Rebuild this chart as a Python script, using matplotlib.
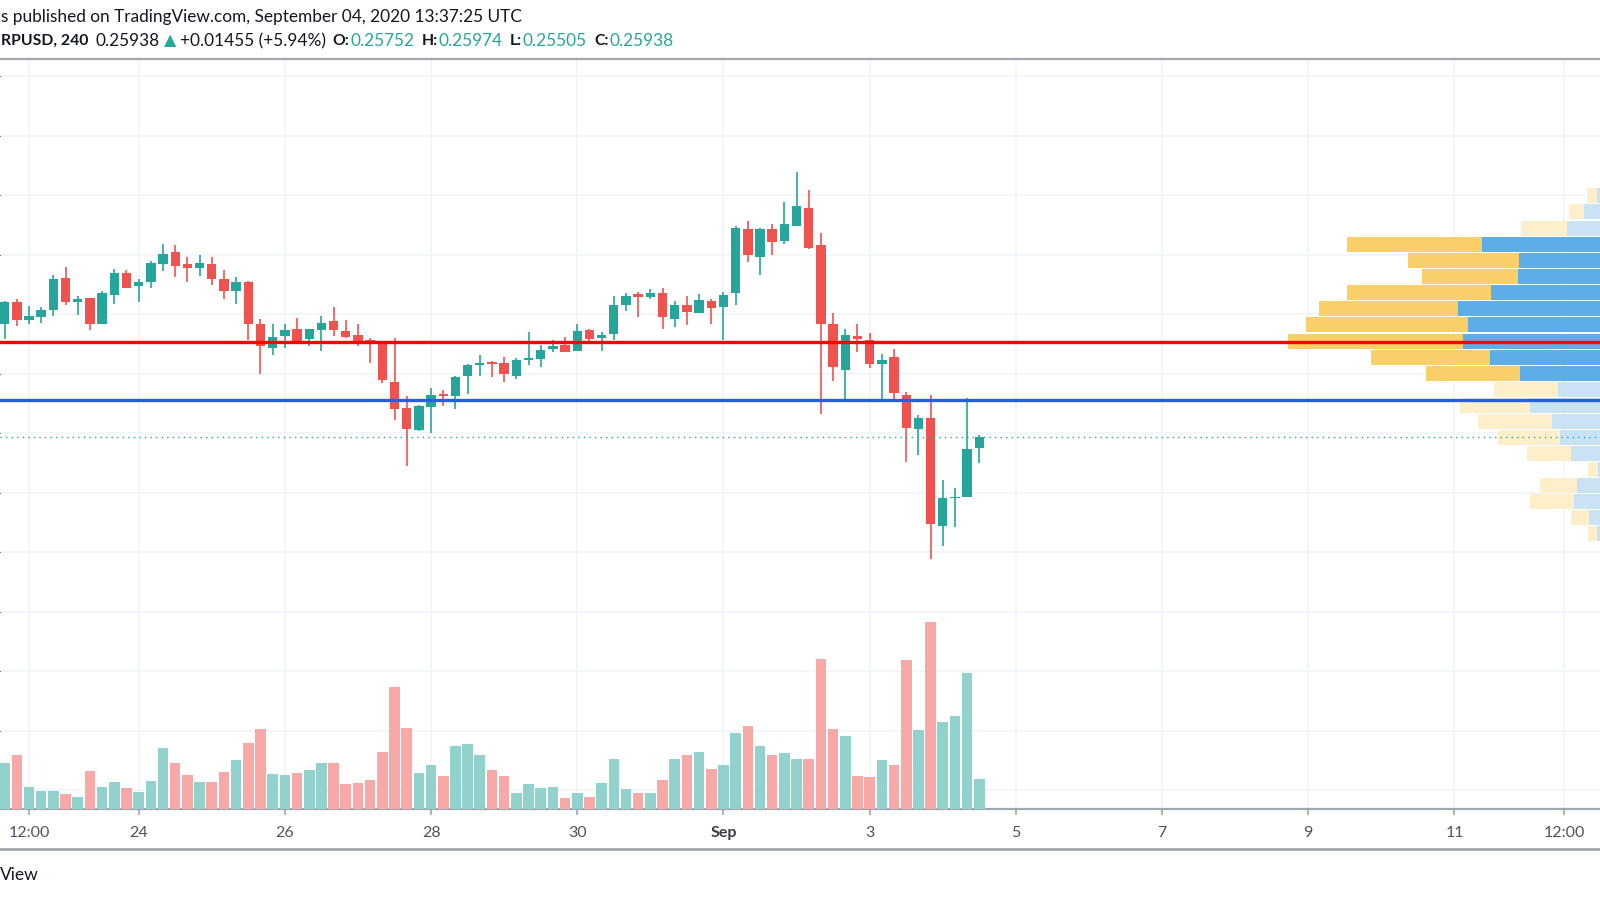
import numpy as np
import pandas as pd
import matplotlib
matplotlib.use("Agg")
import matplotlib.pyplot as plt
import matplotlib.dates as mdates
from matplotlib.lines import Line2D

# ---------------- data ----------------
first_candle = "2020-08-22 04:00"   # 4h candles, XRPUSD
opens = [0.2784, 0.2821, 0.2790, 0.2795, 0.2807, 0.2861, 0.2820, 0.2827, 0.2783, 0.2833,
         0.2870, 0.2847, 0.2854, 0.2885, 0.2905, 0.2884, 0.2878, 0.2884, 0.2859, 0.2839,
         0.2855, 0.2783, 0.2744, 0.2764, 0.2775, 0.2758, 0.2774, 0.2788, 0.2772, 0.2766,
         0.2756, 0.2753, 0.2686, 0.2643, 0.2605, 0.2645, 0.2666, 0.2662, 0.2696, 0.2715,
         0.2720, 0.2718, 0.2697, 0.2724, 0.2725, 0.2741, 0.2749, 0.2738, 0.2774, 0.2761,
         0.2767, 0.2815, 0.2834, 0.2829, 0.2836, 0.2792, 0.2815, 0.2803, 0.2823, 0.2812,
         0.2835, 0.2944, 0.2896, 0.2943, 0.2924, 0.2949, 0.2979, 0.2916, 0.2783, 0.2706,
         0.2764, 0.2756, 0.2716, 0.2728, 0.2664, 0.2608, 0.2626, 0.2445, 0.2491, 0.2493,
         0.25752]
highs = [0.2823, 0.2826, 0.2814, 0.2813, 0.2866, 0.2880, 0.2830, 0.2827, 0.2839, 0.2876,
         0.2875, 0.2859, 0.2889, 0.2919, 0.2917, 0.2896, 0.2899, 0.2897, 0.2875, 0.2862,
         0.2856, 0.2792, 0.2784, 0.2784, 0.2794, 0.2776, 0.2797, 0.2812, 0.2790, 0.2784,
         0.2760, 0.2754, 0.2761, 0.2662, 0.2647, 0.2677, 0.2673, 0.2696, 0.2716, 0.2732,
         0.2722, 0.2729, 0.2727, 0.2770, 0.2748, 0.2757, 0.2762, 0.2784, 0.2775, 0.2770,
         0.2831, 0.2835, 0.2837, 0.2843, 0.2844, 0.2822, 0.2830, 0.2834, 0.2825, 0.2837,
         0.2948, 0.2956, 0.2945, 0.2951, 0.2989, 0.3040, 0.3009, 0.2936, 0.2802, 0.2775,
         0.2784, 0.2768, 0.2734, 0.2742, 0.2670, 0.2631, 0.2664, 0.2522, 0.2508, 0.2659,
         0.25974]
lows = [0.2759, 0.2781, 0.2784, 0.2786, 0.2797, 0.2815, 0.2799, 0.2774, 0.2783, 0.2818,
        0.2844, 0.2821, 0.2844, 0.2873, 0.2862, 0.2854, 0.2864, 0.2850, 0.2826, 0.2817,
        0.2756, 0.2699, 0.2732, 0.2743, 0.2753, 0.2747, 0.2738, 0.2764, 0.2761, 0.2746,
        0.2718, 0.2684, 0.2623, 0.2545, 0.2604, 0.2600, 0.2646, 0.2641, 0.2666, 0.2696,
        0.2694, 0.2687, 0.2691, 0.2714, 0.2711, 0.2736, 0.2736, 0.2738, 0.2753, 0.2739,
        0.2756, 0.2805, 0.2796, 0.2826, 0.2776, 0.2779, 0.2782, 0.2802, 0.2784, 0.2757,
        0.2816, 0.2888, 0.2866, 0.2900, 0.2918, 0.2948, 0.2910, 0.2632, 0.2688, 0.2656,
        0.2737, 0.2709, 0.2652, 0.2652, 0.2551, 0.2563, 0.2389, 0.2411, 0.2443, 0.2493,
        0.25505]
closes = [0.2821, 0.2790, 0.2797, 0.2808, 0.2860, 0.2821, 0.2826, 0.2784, 0.2836, 0.2869,
          0.2845, 0.2855, 0.2887, 0.2901, 0.2882, 0.2878, 0.2886, 0.2860, 0.2839, 0.2855,
          0.2783, 0.2747, 0.2762, 0.2774, 0.2755, 0.2775, 0.2785, 0.2773, 0.2762, 0.2752,
          0.2753, 0.2689, 0.2641, 0.2608, 0.2646, 0.2664, 0.2663, 0.2694, 0.2715, 0.2719,
          0.2716, 0.2699, 0.2723, 0.2727, 0.2740, 0.2747, 0.2737, 0.2772, 0.2758, 0.2765,
          0.2816, 0.2831, 0.2829, 0.2836, 0.2795, 0.2816, 0.2804, 0.2824, 0.2811, 0.2832,
          0.2945, 0.2899, 0.2944, 0.2922, 0.2951, 0.2982, 0.2912, 0.2783, 0.2711, 0.2766,
          0.2758, 0.2716, 0.2724, 0.2668, 0.2609, 0.2625, 0.2447, 0.2491, 0.2493, 0.2573,
          0.25938]
volumes = [46, 54, 22, 18, 18, 15, 12, 38, 22, 27,
           21, 17, 28, 61, 46, 34, 27, 27, 37, 49,
           66, 80, 35, 34, 36, 39, 46, 46, 25, 26,
           29, 57, 122, 81, 36, 44, 33, 63, 65, 54,
           39, 33, 16, 25, 21, 22, 11, 16, 12, 26,
           50, 20, 16, 16, 29, 50, 54, 57, 40, 44,
           76, 83, 63, 54, 56, 50, 50, 150, 80, 73,
           33, 32, 49, 44, 149, 79, 187, 87, 93, 136,
           30]

# volume profile (visible range): row price, up volume (blue), down volume (yellow)
profile_price = [0.2999, 0.2972, 0.2945, 0.2918, 0.2891, 0.2864, 0.2837, 0.2810, 0.2783, 0.2755,
                 0.2728, 0.2701, 0.2674, 0.2647, 0.2620, 0.2593, 0.2566, 0.2539, 0.2512, 0.2485,
                 0.2458, 0.2431]
profile_up = [3, 16, 33, 118, 81, 82, 109, 142, 132, 137,
              110, 80, 42, 70, 48, 40, 29, 2, 23, 26,
              11, 3]
profile_down = [10, 15, 46, 135, 111, 96, 144, 139, 162, 175,
                119, 94, 64, 70, 74, 62, 44, 10, 37, 44,
                18, 9]
value_area = [False, False, False, True, True, True, True, True, True, True,
              True, True, False, False, False, False, False, False, False, False,
              False, False]

red_level = 0.2754
blue_level = 0.2656
last_price = 0.25938

tick_dates = ["2020-08-22 12:00", "2020-08-24 00:00", "2020-08-26 00:00", "2020-08-28 00:00",
              "2020-08-30 00:00", "2020-09-01 00:00", "2020-09-03 00:00", "2020-09-05 00:00",
              "2020-09-07 00:00", "2020-09-09 00:00", "2020-09-11 00:00", "2020-09-12 12:00"]
tick_labels = ["12:00", "24", "26", "28", "30", "Sep", "3", "5", "7", "9", "11", "12:00"]

# ---------------- style ----------------
UP = "#26A69A"
DOWN = "#EF5350"
VOL_UP = "#92D2CC"
VOL_DOWN = "#F7A9A7"
GRID = "#F0F3FA"
SEP = "#A3A6AF"
TXT = "#131722"
FONT = ["Lato", "DejaVu Sans"]
plt.rcParams["font.family"] = FONT

W, H = 1600, 900
fig = plt.figure(figsize=(16, 9), dpi=100)
fig.patch.set_facecolor("white")

ax = fig.add_axes([0, 91 / H, 1, 750 / H])
ax.set_zorder(1)
ax.patch.set_facecolor("white")

times = pd.date_range(first_candle, periods=len(opens), freq="4h")
x = mdates.date2num(times)
o = np.array(opens); c = np.array(closes); hi = np.array(highs); lo = np.array(lows)
up = c >= o

day0 = mdates.date2num(pd.Timestamp("2020-08-22 00:00"))
ax.set_xlim(day0 + 0.1033, day0 + 21.991)
ax.set_ylim(0.19686, 0.32291)

# grid
ax.set_yticks(np.round(np.arange(0.20, 0.3201, 0.01), 2))
xt = mdates.date2num(pd.to_datetime(tick_dates, format="%Y-%m-%d %H:%M"))
ax.set_xticks(xt)
ax.set_xticklabels(tick_labels)
ax.grid(True, color=GRID, lw=1.2)
ax.set_axisbelow(True)
ax.tick_params(axis="y", left=False, labelleft=False)
ax.tick_params(axis="x", length=4, width=1.2, color=SEP, pad=8, labelsize=11.5,
               labelcolor="#50535E")
for lab in ax.get_xticklabels():
    if lab.get_text() == "Sep":
        lab.set_fontweight("bold")
        lab.set_color("#3B3E48")
for s in ["left", "right"]:
    ax.spines[s].set_visible(False)
for s in ["top", "bottom"]:
    ax.spines[s].set_color(SEP)
    ax.spines[s].set_linewidth(1.6)

# candles
cw = (4 / 24) * 0.77
colors = np.where(up, UP, DOWN)
ax.vlines(x, lo, hi, colors=colors, lw=1.2, zorder=2)
body = np.maximum(np.abs(c - o), 0.00016)
ax.bar(x, body, bottom=np.minimum(o, c), width=cw, color=colors, zorder=3, linewidth=0)

# volume overlay
vol = ax.twinx()
vol.set_zorder(2)
vol.patch.set_visible(False)
vol.set_ylim(0, 750)
vol.bar(x, volumes, width=(4 / 24) * 0.87, color=np.where(up, VOL_UP, VOL_DOWN), linewidth=0)
vol.set_axis_off()

# volume profile on right
prof = ax.twiny()
prof.set_zorder(3)
prof.patch.set_visible(False)
prof.set_xlim(W, 0)
pu = np.array(profile_up); pdn = np.array(profile_down)
va = np.array(value_area)
blue_c = np.where(va, "#5DADE6", "#C9E3F5")
yel_c = np.where(va, "#F8D067", "#FDEFC9")
rh = 0.00252
prof.barh(profile_price, pu, height=rh, left=0, color=blue_c, linewidth=0)
prof.barh(profile_price, pdn, height=rh, left=pu, color=yel_c, linewidth=0)
prof.axhline(red_level, color="#FF0000", lw=2.4, zorder=5)
prof.axhline(blue_level, color="#2A5FD6", lw=2.4, zorder=5)
prof.axhline(last_price, color=UP, lw=1.0, ls=(0, (1, 3)), zorder=4)
prof.set_axis_off()

# lower separator line
fig.add_artist(Line2D([0, 1], [1 - 849 / H, 1 - 849 / H], color=SEP, lw=2.0,
                      transform=fig.transFigure))

# ---------------- header text ----------------
renderer = fig.canvas.get_renderer()


def draw_runs(y_px, runs, x_px=1.0):
    xp = x_px
    for s, color, weight, gap, size in runs:
        xp += gap
        t = fig.text(xp / W, 1 - y_px / H, s, color=color, fontweight=weight,
                     fontsize=size, va="center", ha="left", family=FONT)
        bb = t.get_window_extent(renderer=renderer)
        xp += bb.width


draw_runs(17, [("s published on TradingView.com, September 04, 2020 13:37:25 UTC", TXT, "normal", 0, 12.4)])
draw_runs(41, [
    ("RPUSD, 240", TXT, "bold", 0, 11.3),
    ("0.25938", TXT, "normal", 7, 12.4),
    ("\u25B2", UP, "normal", 4, 11.5),
    ("+0.01455 (+5.94%)", TXT, "normal", 4, 12.4),
    ("O:", TXT, "bold", 7, 11.3),
    ("0.25752", UP, "normal", 1, 12.4),
    ("H:", TXT, "bold", 7, 11.3),
    ("0.25974", UP, "normal", 1, 12.4),
    ("L:", TXT, "bold", 7, 11.3),
    ("0.25505", UP, "normal", 1, 12.4),
    ("C:", TXT, "bold", 7, 11.3),
    ("0.25938", UP, "normal", 1, 12.4),
])
fig.text(0 / W, 1 - 875 / H, "View", color=TXT, fontsize=12.5, va="center", ha="left")

fig.savefig("out.png", dpi=100, facecolor="white")
